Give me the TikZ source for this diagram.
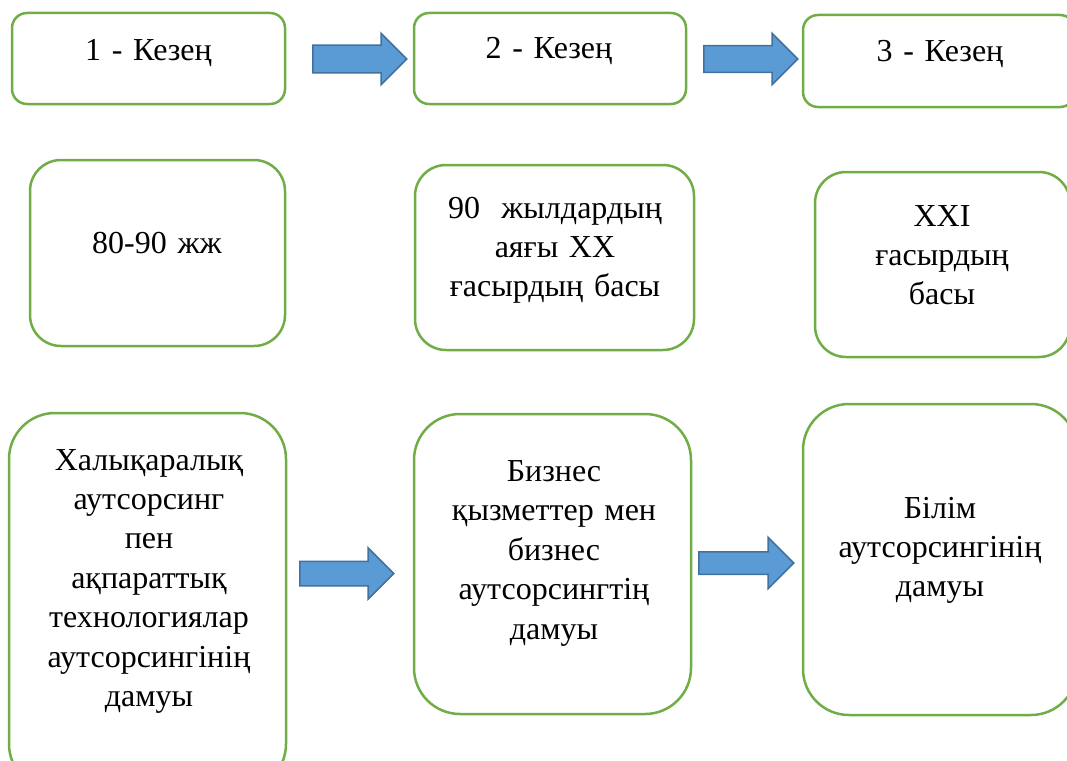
\documentclass[tikz,border=0pt]{standalone}
\usepackage{fontspec}
\setmainfont{Liberation Serif}
\usetikzlibrary{shapes.arrows}
\definecolor{grn}{HTML}{70AD47}
\definecolor{afill}{HTML}{5B9BD5}
\definecolor{aline}{HTML}{41719C}
\begin{document}
\begin{tikzpicture}[x=1pt,y=-1pt,
  box/.style={draw=grn, line width=2.5pt, rectangle, inner sep=0pt, fill=white},
  txt/.style={font=\fontsize{32}{39.4}\selectfont, align=center, text width=270pt, anchor=base, inner sep=0pt},
  barrow/.style={single arrow, draw=aline, fill=afill, line width=1.5pt,
    single arrow tip angle=90, inner xsep=0pt, minimum width=0pt, anchor=tail}]
\clip (0,0) rectangle (1067,760);
% boxes
\node[box, minimum width=273pt, minimum height=91pt, rounded corners=15pt] (b1) at (148.5,58.5) {};
\node[box, minimum width=272pt, minimum height=91pt, rounded corners=15pt] (b2) at (550,58.5) {};
\node[box, minimum width=272pt, minimum height=92pt, rounded corners=15pt] (b3) at (939,61) {};
\node[box, minimum width=255pt, minimum height=186pt, rounded corners=31pt] (b4) at (157.5,253) {};
\node[box, minimum width=279pt, minimum height=185pt, rounded corners=31pt] (b5) at (554.5,257.5) {};
\node[box, minimum width=255pt, minimum height=185pt, rounded corners=31pt] (b6) at (942.5,264.5) {};
\node[box, minimum width=277pt, minimum height=377pt, rounded corners=46pt] (b7) at (147.5,601.5) {};
\node[box, minimum width=277pt, minimum height=300pt, rounded corners=46pt] (b8) at (552.5,564) {};
\node[box, minimum width=274pt, minimum height=311pt, rounded corners=46pt] (b9) at (940,559.5) {};
% texts
\node[txt] (t1) at (148.5,60) {1 - Кезең};
\node[txt] (t2) at (549,59) {2 - Кезең};
\node[txt] (t3) at (940,62) {3 - Кезең};
\node[txt] (t4) at (157,253) {80-90 жж};
\node[txt] (t5) at (555,218) {90 \ жылдардың\\аяғы ХХ\\ғасырдың басы};
\node[txt] (t6) at (942,226) {XXI\\ғасырдың\\басы};
\node[txt] (t7) at (149,470) {Халықаралық\\аутсорсинг\\пен\\ақпараттық\\технологиялар\\аутсорсингінің\\дамуы};
\node[txt, font=\fontsize{32}{39.6}\selectfont] (t8) at (554,481) {Бизнес\\қызметтер мен\\бизнес\\аутсорсингтің\\дамуы};
\node[txt] (t9) at (940,518) {Білім\\аутсорсингінің\\дамуы};
% block arrows
\node[barrow, minimum height=94pt, inner ysep=13pt, single arrow head extend=12pt] (a1) at (312,59) {};
\node[barrow, minimum height=94pt, inner ysep=12.5pt, single arrow head extend=12.5pt] (a2) at (703,59) {};
\node[barrow, minimum height=94pt, inner ysep=11.5pt, single arrow head extend=13.5pt] (a3) at (299,573.5) {};
\node[barrow, minimum height=95pt, inner ysep=10.5pt, single arrow head extend=14.5pt] (a4) at (698,563) {};
\end{tikzpicture}
\end{document}
